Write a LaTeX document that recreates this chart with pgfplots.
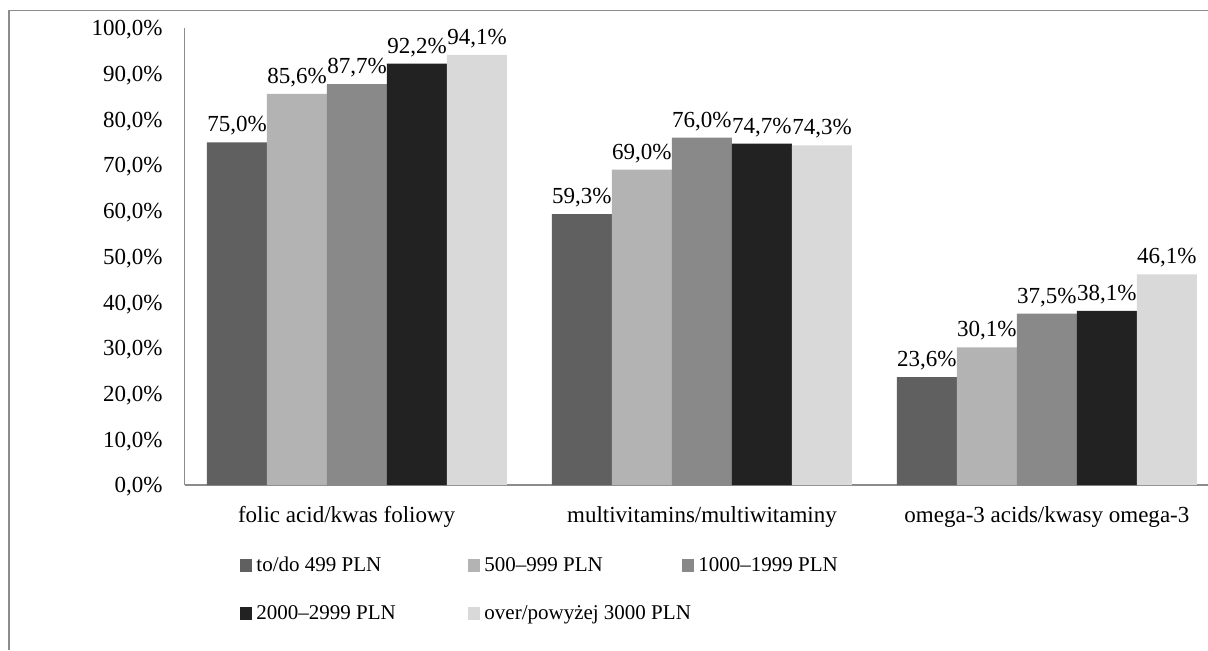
\documentclass[border=0pt]{standalone}
\usepackage{fontspec}
\setmainfont{Liberation Serif}
\usepackage{pgfplots}
\pgfplotsset{compat=1.18}

\definecolor{cA}{HTML}{606060}
\definecolor{cB}{HTML}{B3B3B3}
\definecolor{cC}{HTML}{898989}
\definecolor{cD}{HTML}{222222}
\definecolor{cE}{HTML}{D9D9D9}
\definecolor{frame}{HTML}{8C8C8C}

\newcommand{\lblfont}{\fontsize{11.5}{13.5}\selectfont}
\newcommand{\legfont}{\fontsize{10.5}{12.5}\selectfont}

\begin{document}
\begin{tikzpicture}
% outer chart frame (top and left edges)
\draw[frame, line width=0.8pt] (4.5pt,0pt) -- (4.5pt,319.75pt) -- (604pt,319.75pt);

\begin{axis}[
  at={(92.25pt,82.5pt)}, anchor=south west,
  scale only axis,
  width=511.75pt, height=228.5pt,
  ybar=0pt, bar width=30pt,
  xmin=-0.5, xmax=2.467,
  ymin=0, ymax=100,
  axis x line*=bottom, axis y line*=left,
  axis line style={-, draw=frame, line width=0.8pt},
  major tick length=0pt,
  xtick={-0.03,1,2},
  xticklabels={folic acid/kwas foliowy, multivitamins/multiwitaminy, omega-3 acids/kwasy omega-3},
  xticklabel style={font=\lblfont, yshift=-7pt},
  ytick={0,10,...,100},
  yticklabel={\pgfmathprintnumber[fixed,fixed zerofill,precision=1,use comma,assume math mode=true]{\tick}\%},
  yticklabel style={font=\lblfont, xshift=-7.5pt, yshift=-1pt},
  nodes near coords={\pgfmathprintnumber[fixed,fixed zerofill,precision=1,use comma,assume math mode=true]{\pgfplotspointmeta}\%},
  nodes near coords style={font=\lblfont, text=black},
  point meta=y,
  legend columns=3,
  legend image code/.code={\fill[#1] (0pt,0pt) rectangle (6pt,6.5pt);},
  legend style={
    draw=none, fill=none, font=\legfont,
    at={(axis description cs:0.0484,-0.148)}, anchor=north west,
    nodes={inner sep=0pt, anchor=base west},
    row sep=15.5pt,
    /tikz/every odd column/.append style={column sep=2pt},
    /tikz/every even column/.append style={column sep=0pt},
  },
]
\addplot[fill=cA, draw=none] coordinates {(0,75.0) (1,59.3) (2,23.6)};
\addlegendentry{\makebox[106pt][l]{to/do 499 PLN}}
\addplot[fill=cB, draw=none] coordinates {(0,85.6) (1,69.0) (2,30.1)};
\addlegendentry{\makebox[99pt][l]{500--999 PLN}}
\addplot[fill=cC, draw=none] coordinates {(0,87.7) (1,76.0) (2,37.5)};
\addlegendentry{1000--1999 PLN}
\addplot[fill=cD, draw=none] coordinates {(0,92.2) (1,74.7) (2,38.1)};
\addlegendentry{\makebox[106pt][l]{2000--2999 PLN}}
\addplot[fill=cE, draw=none] coordinates {(0,94.1) (1,74.3) (2,46.1)};
\addlegendentry{\makebox[99pt][l]{over/powyżej 3000 PLN}}
\end{axis}

\pgfresetboundingbox
\useasboundingbox (0pt,0pt) rectangle (604pt,325pt);
\end{tikzpicture}
\end{document}
